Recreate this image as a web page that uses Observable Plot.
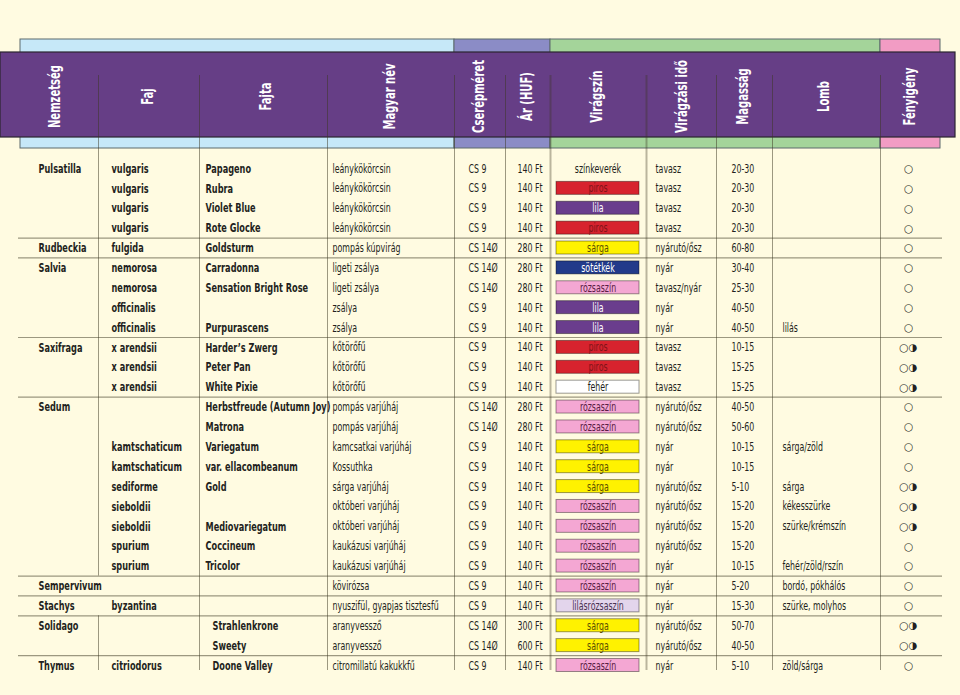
<!DOCTYPE html>
<html>
<head>
<meta charset="utf-8">
<script src="https://cdn.jsdelivr.net/npm/d3@7"></script>
<script src="https://cdn.jsdelivr.net/npm/@observablehq/plot@0.6"></script>
<style>
  html, body { margin: 0; padding: 0; background: #fffbe1; }
  #chart { width: 960px; height: 695px; }
</style>
</head>
<body>
<div id="chart"></div>
<script>
// ---------- DATA ----------
const headers = ["Nemzetség","Faj","Fajta","Magyar név","Cserépméret","Ár (HUF)","Virágszín","Virágzási idő","Magasság","Lomb","Fényigény"];

const nemzetseg = ["Pulsatilla","","","","Rudbeckia","Salvia","","","","Saxifraga","","","Sedum","","","","","","","","","Sempervivum","Stachys","Solidago","","Thymus"];
const faj = ["vulgaris","vulgaris","vulgaris","vulgaris","fulgida","nemorosa","nemorosa","officinalis","officinalis","x arendsii","x arendsii","x arendsii","","","kamtschaticum","kamtschaticum","sediforme","sieboldii","sieboldii","spurium","spurium","","byzantina","","","citriodorus"];
const fajta = ["Papageno","Rubra","Violet Blue","Rote Glocke","Goldsturm","Carradonna","Sensation Bright Rose","","Purpurascens","Harder’s Zwerg","Peter Pan","White Pixie","Herbstfreude (Autumn Joy)","Matrona","Variegatum","var. ellacombeanum","Gold","","Mediovariegatum","Coccineum","Tricolor","","","Strahlenkrone","Sweety","Doone Valley"];
const magyarNev = ["leánykökörcsin","leánykökörcsin","leánykökörcsin","leánykökörcsin","pompás kúpvirág","ligeti zsálya","ligeti zsálya","zsálya","zsálya","kőtörőfű","kőtörőfű","kőtörőfű","pompás varjúháj","pompás varjúháj","kamcsatkai varjúháj","Kossuthka","sárga varjúháj","októberi varjúháj","októberi varjúháj","kaukázusi varjúháj","kaukázusi varjúháj","kövirózsa","nyuszifül, gyapjas tisztesfű","aranyvessző","aranyvessző","citromillatú kakukkfű"];
const cserep = ["CS 9","CS 9","CS 9","CS 9","CS 14Ø","CS 14Ø","CS 14Ø","CS 9","CS 9","CS 9","CS 9","CS 9","CS 14Ø","CS 14Ø","CS 9","CS 9","CS 9","CS 9","CS 9","CS 9","CS 9","CS 9","CS 9","CS 14Ø","CS 14Ø","CS 9"];
const ar = [140,140,140,140,280,280,280,140,140,140,140,140,280,280,140,140,140,140,140,140,140,140,140,300,600,140];
const viragszin = ["színkeverék","piros","lila","piros","sárga","sötétkék","rózsaszín","lila","lila","piros","piros","fehér","rózsaszín","rózsaszín","sárga","sárga","sárga","rózsaszín","rózsaszín","rózsaszín","rózsaszín","rózsaszín","lilásrózsaszín","sárga","sárga","rózsaszín"];
const viragzasiIdo = ["tavasz","tavasz","tavasz","tavasz","nyárutó/ősz","nyár","tavasz/nyár","nyár","nyár","tavasz","tavasz","tavasz","nyárutó/ősz","nyárutó/ősz","nyár","nyár","nyárutó/ősz","nyárutó/ősz","nyárutó/ősz","nyárutó/ősz","nyár","nyár","nyár","nyárutó/ősz","nyárutó/ősz","nyár"];
const magassag = ["20-30","20-30","20-30","20-30","60-80","30-40","25-30","40-50","40-50","10-15","15-25","15-25","40-50","50-60","10-15","10-15","5-10","15-20","15-20","15-20","10-15","5-20","15-30","50-70","40-50","5-10"];
const lomb = ["","","","","","","","","lilás","","","","","","sárga/zöld","","sárga","kékesszürke","szürke/krémszín","","fehér/zöld/rszín","bordó, pókhálós","szürke, molyhos","","","zöld/sárga"];
const fenyigeny = ["○","○","○","○","○","○","○","○","○","○◑","○◑","○◑","○","○","○","○","○◑","○◑","○◑","○","○","○","○","○◑","○◑","○"];

// ---------- STYLE / LAYOUT ----------
const swatchFill = {"piros":"#d7232e","lila":"#6a3d8d","sárga":"#fff200","sötétkék":"#223a8a","rózsaszín":"#f4a7d3","fehér":"#ffffff","lilásrózsaszín":"#e3d5ec"};
const swatchText = {"piros":"#7e1418","lila":"#ffffff","sárga":"#5c4f00","sötétkék":"#ffffff","rózsaszín":"#5a1c44","fehér":"#231f20","lilásrózsaszín":"#4a3352"};
const ink = "#231f20";
const W = 960, H = 695;
const rowY0 = 168, rowH = 19.88;
const rowY = i => rowY0 + i * rowH;
const edges = [98, 199, 327, 454, 505, 550, 646, 716, 772, 880];
const headerX = [55, 148, 266, 390, 479, 527, 597, 682, 743, 824, 910];
const bands = [
  {x1: 20, x2: 454, fill: "#c6e8f8"},
  {x1: 454, x2: 550, fill: "#8b8cc6"},
  {x1: 550, x2: 880, fill: "#a4d49a"},
  {x1: 880, x2: 940, fill: "#f29cc4"}
];
const indentRows = new Set([23, 24, 25]);
const bodyCondense = 0.7, headCondense = 0.72;
const fsBold = 13, fsReg = 12.5, fsHead = 15.5;

const rows = nemzetseg.map((d, i) => ({
  i, nem: d, faj: faj[i], fajta: fajta[i], magyar: magyarNev[i], cs: cserep[i],
  ar: ar[i] + " Ft", szin: viragszin[i], ido: viragzasiIdo[i], mag: magassag[i],
  lomb: lomb[i], feny: fenyigeny[i], y: rowY(i)
}));
const n = rows.length;
const lastY = rowY(n - 1) + 5;
const groupStarts = rows.filter(r => r.i > 0 && r.nem !== "").map(r => r.i);
const seps = groupStarts.map(i => ({y: rowY(i) - rowH / 2}));

const vSegs = [];
for (const x of edges) {
  if (x === 98) {
    vSegs.push({x, y1: 75, y2: rowY(21) - rowH / 2});
    vSegs.push({x, y1: rowY(23) - rowH / 2, y2: lastY});
  } else {
    vSegs.push({x, y1: 75, y2: lastY, thick: x === 550 || x === 646});
  }
}

const swatchRows = rows.filter(r => swatchFill[r.szin]);
const plainColorRows = rows.filter(r => !swatchFill[r.szin]);
const font = "'DejaVu Sans Condensed', 'DejaVu Sans', sans-serif";

const chart = Plot.plot({
  width: W, height: H, margin: 0,
  x: {type: "linear", domain: [0, W], range: [0, W], axis: null},
  y: {type: "linear", domain: [0, H], range: [0, H], axis: null},
  color: {type: "identity"},
  style: {background: "#fffbe1", fontFamily: font},
  marks: [
    Plot.rect(bands, {x1: "x1", x2: "x2", y1: () => 39, y2: () => 148, fill: "fill", stroke: "#5c6a6c", strokeWidth: 1}),
    Plot.rect([0], {x1: () => 0, x2: () => 955, y1: () => 52, y2: () => 137, fill: "#663e86", stroke: "#2a2530", strokeWidth: 1.2}),
    Plot.ruleX(vSegs.filter(d => !d.thick), {x: "x", y1: "y1", y2: "y2", stroke: "#3a3520", strokeOpacity: 0.5, strokeWidth: 1}),
    Plot.ruleX(vSegs.filter(d => d.thick), {x: "x", y1: "y1", y2: "y2", stroke: "#3a3520", strokeOpacity: 0.35, strokeWidth: 2}),
    Plot.ruleY(seps, {y: "y", x1: () => 18, x2: () => 942, stroke: "#3a3520", strokeOpacity: 0.5, strokeWidth: 1.2}),
    Plot.text(headers, {x: (d, i) => headerX[i], y: () => 96, text: d => d, rotate: -90, fill: "white", fontWeight: "bold", fontSize: fsHead, textAnchor: "middle"}),
    Plot.text(rows, {x: () => 38, y: "y", text: "nem", textAnchor: "start", fontWeight: "bold", fontSize: fsBold, fill: ink}),
    Plot.text(rows, {x: () => 111, y: "y", text: "faj", textAnchor: "start", fontWeight: "bold", fontSize: fsBold, fill: ink}),
    Plot.text(rows, {x: d => indentRows.has(d.i) ? 212 : 205, y: "y", text: "fajta", textAnchor: "start", fontWeight: "bold", fontSize: fsBold, fill: ink}),
    Plot.text(rows, {x: () => 332, y: "y", text: "magyar", textAnchor: "start", fontSize: fsReg, fill: ink}),
    Plot.text(rows, {x: () => 468, y: "y", text: "cs", textAnchor: "start", fontSize: fsReg, fill: ink}),
    Plot.text(rows, {x: () => 542, y: "y", text: "ar", textAnchor: "end", fontSize: fsReg, fill: ink}),
    Plot.rect(swatchRows, {x1: () => 556, x2: () => 639, y1: d => d.y - 6.5, y2: d => d.y + 6.5, fill: d => swatchFill[d.szin]}),
    Plot.rect(swatchRows, {x1: () => 556, x2: () => 639, y1: d => d.y - 6.5, y2: d => d.y + 6.5, fill: "none", stroke: "black", strokeOpacity: 0.4, strokeWidth: 1}),
    Plot.text(swatchRows, {x: () => 597.5, y: "y", text: "szin", textAnchor: "middle", fontSize: fsReg, fill: d => swatchText[d.szin]}),
    Plot.text(plainColorRows, {x: () => 597.5, y: "y", text: "szin", textAnchor: "middle", fontSize: fsReg, fill: ink}),
    Plot.text(rows, {x: () => 655, y: "y", text: "ido", textAnchor: "start", fontSize: fsReg, fill: ink}),
    Plot.text(rows, {x: () => 731, y: "y", text: "mag", textAnchor: "start", fontSize: fsReg, fill: ink}),
    Plot.text(rows, {x: () => 782, y: "y", text: "lomb", textAnchor: "start", fontSize: fsReg, fill: ink}),
    Plot.text(rows, {x: () => 908, y: "y", text: "feny", textAnchor: "middle", fontSize: 10.5, fontFamily: "DejaVu Sans", fill: ink})
  ]
});

// condense text horizontally to mimic the narrow typeface of the original
d3.select(chart).selectAll("text").each(function () {
  if (/[○◑]/.test(this.textContent)) return;
  const t = this.getAttribute("transform");
  if (!t) return;
  const k = /rotate/.test(t) ? headCondense : bodyCondense;
  this.setAttribute("transform", t + ` scale(${k},1)`);
});
document.getElementById("chart").appendChild(chart);
</script>
</body>
</html>
